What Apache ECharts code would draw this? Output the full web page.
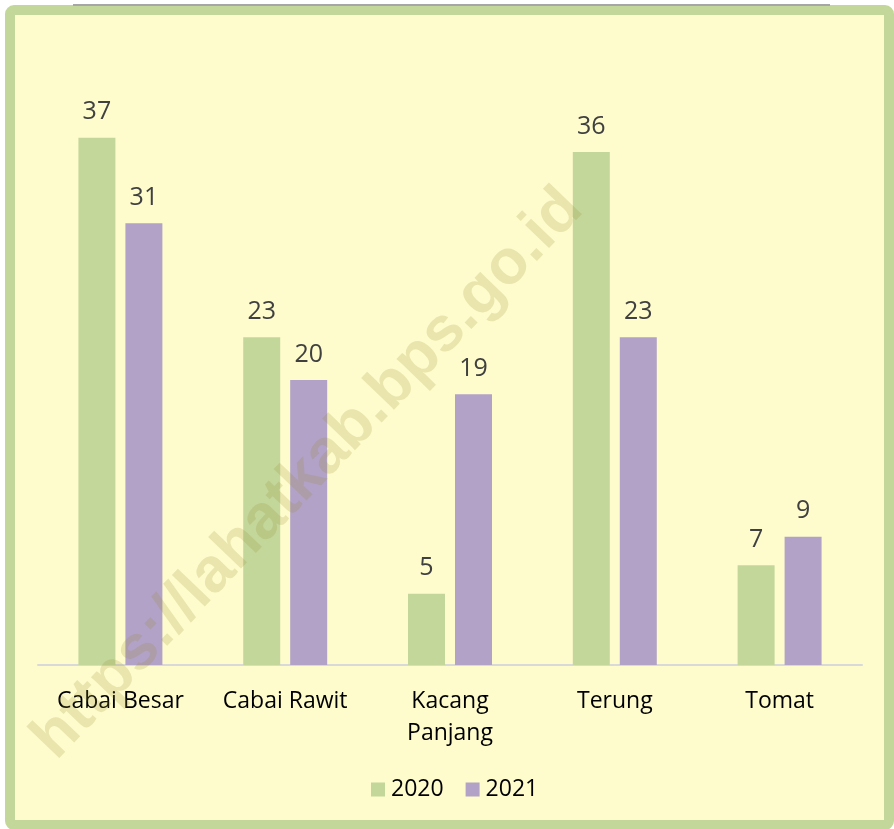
<!DOCTYPE html>
<html>
<head>
<meta charset="utf-8">
<script src="https://cdn.jsdelivr.net/npm/echarts@6/dist/echarts.min.js"></script>
<style>
  html, body { margin: 0; padding: 0; background: #ffffff; }
  #chart { width: 894px; height: 829px; }
</style>
</head>
<body>
<div id="chart"></div>
<script>
// data
var categories = ['Cabai Besar', 'Cabai Rawit', 'Kacang\nPanjang', 'Terung', 'Tomat'];
var seriesNames = ['2020', '2021'];
var values2020 = [37, 23, 5, 36, 7];
var values2021 = [31, 20, 19, 23, 9];
var colorArr = ['#c4d79b', '#b3a2c7'];

var font = '"Open Sans", "Noto Sans", sans-serif';

function makeSeries(name, data, color) {
	return {
		name: name,
		type: 'bar',
		barWidth: 37,
		barGap: '27%',
		itemStyle: {color: color},
		label: {
			show: true,
			position: 'top',
			distance: 13,
			color: '#404040',
			fontFamily: font,
			fontSize: 25
		},
		data: data
	};
}

var option = {
	animation: false,
	backgroundColor: '#ffffff',
	graphic: [
		{
			type: 'rect', z: -10, silent: true,
			shape: {x: 10, y: 10, width: 879, height: 815, r: 4},
			style: {fill: '#fefccc', stroke: '#c4d79b', lineWidth: 10}
		},
		{
			type: 'line', z: -5, silent: true,
			shape: {x1: 73, y1: 5, x2: 830, y2: 5},
			style: {stroke: '#a6a6a6', lineWidth: 2}
		},
		{
			type: 'text', z: 100, silent: true,
			x: 308, y: 474, rotation: Math.PI / 4 + 0.02,
			style: {
				text: 'https://lahatkab.bps.go.id',
				fill: 'rgba(150, 140, 50, 0.2)',
				font: 'bold 63px "Liberation Sans", Arial, sans-serif',
				align: 'center', verticalAlign: 'middle'
			}
		}
	],
	legend: {
		data: seriesNames,
		bottom: 23,
		left: 366,
		itemWidth: 14,
		itemHeight: 14,
		itemGap: 22,
		icon: 'rect',
		textStyle: {color: '#000000', fontFamily: font, fontSize: 23, padding: [0, 0, 0, 1]}
	},
	grid: {left: 38, right: 32, top: 95, bottom: 164},
	xAxis: {
		type: 'category',
		data: categories,
		axisLine: {lineStyle: {color: '#d9d9d9', width: 2}},
		axisTick: {show: false},
		axisLabel: {
			interval: 0,
			hideOverlap: false,
			color: '#000000',
			fontFamily: font,
			fontSize: 23,
			lineHeight: 32,
			margin: 20
		}
	},
	yAxis: {
		type: 'value',
		min: 0,
		max: 40,
		show: false,
		splitLine: {show: false}
	},
	series: [
		makeSeries(seriesNames[0], values2020, colorArr[0]),
		makeSeries(seriesNames[1], values2021, colorArr[1])
	]
};

var myChart = echarts.init(document.getElementById('chart'));
myChart.setOption(option);
</script>
</body>
</html>
